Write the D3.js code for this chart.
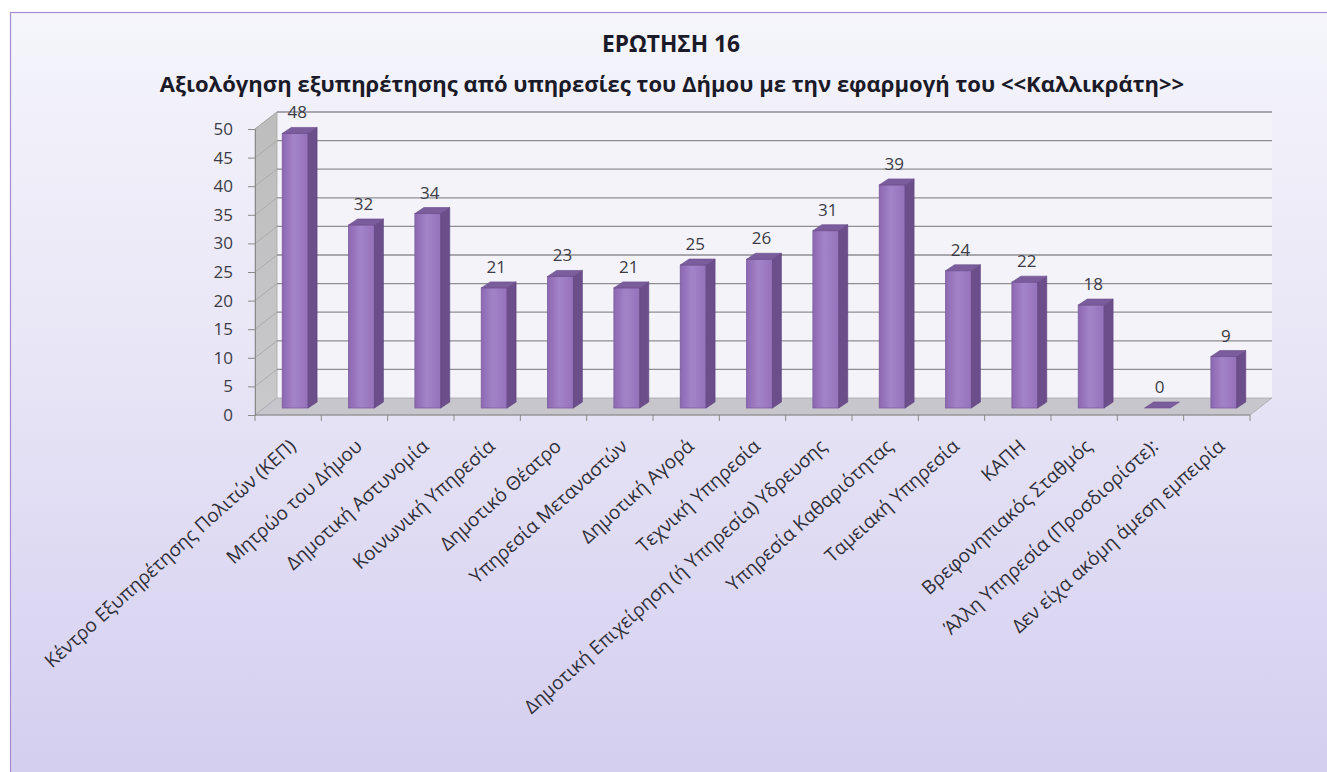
<!DOCTYPE html>
<html><head><meta charset="utf-8">
<script src="https://cdn.jsdelivr.net/npm/d3@7"></script>
<style>html,body{margin:0;padding:0;background:#fff;}svg{display:block;}</style>
</head><body>
<svg id="c" width="1327" height="772"></svg>
<script>
const categories = [
  "Κέντρο Εξυπηρέτησης Πολιτών (ΚΕΠ)",
  "Μητρώο του Δήμου",
  "Δημοτική Αστυνομία",
  "Κοινωνική Υπηρεσία",
  "Δημοτικό Θέατρο",
  "Υπηρεσία Μεταναστών",
  "Δημοτική Αγορά",
  "Τεχνική Υπηρεσία",
  "Δημοτική Επιχείρηση (ή Υπηρεσία) Υδρευσης",
  "Υπηρεσία Καθαριότητας",
  "Ταμειακή Υπηρεσία",
  "ΚΑΠΗ",
  "Βρεφονηπιακός Σταθμός",
  "Άλλη Υπηρεσία (Προσδιορίστε):",
  "Δεν είχα ακόμη άμεση εμπειρία"
];
const values = [48, 32, 34, 21, 23, 21, 25, 26, 31, 39, 24, 22, 18, 0, 9];
const yTicks = [0, 5, 10, 15, 20, 25, 30, 35, 40, 45, 50];
const titleLine1 = "ΕΡΩΤΗΣΗ 16";
const titleLine2 = "Αξιολόγηση εξυπηρέτησης από υπηρεσίες του Δήμου με την εφαρμογή του <<Καλλικράτη>>";

const svg = d3.select("#c");
const FONT = "'Open Sans', 'Noto Sans', sans-serif";

// 3D depth of the plot box
const DX = 22, DY = -17;

const x = d3.scaleBand().domain(categories).range([255, 1250]).padding(0);
const y = d3.scaleLinear().domain([0, 50]).range([415, 129]);

const defs = svg.append("defs");
const bg = defs.append("linearGradient").attr("id", "bg").attr("x1", 0).attr("y1", 0).attr("x2", 0).attr("y2", 1);
bg.append("stop").attr("offset", "0%").attr("stop-color", "#f5f5fb");
bg.append("stop").attr("offset", "45%").attr("stop-color", "#e8e5f6");
bg.append("stop").attr("offset", "100%").attr("stop-color", "#d3cdef");

const face = defs.append("linearGradient").attr("id", "face").attr("x1", 0).attr("y1", 0).attr("x2", 1).attr("y2", 0);
face.append("stop").attr("offset", "0%").attr("stop-color", "#8d68b2");
face.append("stop").attr("offset", "45%").attr("stop-color", "#a283c8");
face.append("stop").attr("offset", "100%").attr("stop-color", "#9572bb");

const lwall = defs.append("linearGradient").attr("id", "lwall").attr("x1", 0).attr("y1", 0).attr("x2", 0).attr("y2", 1);
lwall.append("stop").attr("offset", "0%").attr("stop-color", "#bdbdbd");
lwall.append("stop").attr("offset", "100%").attr("stop-color", "#c9c9cc");

// chart area background
svg.append("rect").attr("x", 10.5).attr("y", 12.5).attr("width", 1330).attr("height", 780)
  .attr("fill", "url(#bg)").attr("stroke", "#a58bcf").attr("stroke-width", 1.2);

// back wall
svg.append("rect").attr("x", 255 + DX).attr("y", y(50) + DY).attr("width", 1250 - 255)
  .attr("height", y(0) - y(50)).attr("fill", "#f3f3f9");

// left wall
svg.append("path").attr("d", `M255,${y(50)} L${255+DX},${y(50)+DY} L${255+DX},${y(0)+DY} L255,${y(0)} Z`)
  .attr("fill", "url(#lwall)").attr("stroke", "#a8a8a8").attr("stroke-width", 0.8);

// floor
svg.append("path").attr("d", `M255,${y(0)} L${255+DX},${y(0)+DY} L${1250+DX},${y(0)+DY} L1250,${y(0)} Z`)
  .attr("fill", "#c6c6cc").attr("stroke", "#a8a8ad").attr("stroke-width", 0.8);

// gridlines on back wall + left wall
const grid = svg.append("g");
yTicks.filter(v => v > 0).forEach(v => {
  grid.append("line").attr("x1", 255 + DX).attr("x2", 1250 + DX)
    .attr("y1", y(v) + DY).attr("y2", y(v) + DY)
    .attr("stroke", "#8e8e92").attr("stroke-width", 1.3);
  grid.append("line").attr("x1", 255).attr("x2", 255 + DX)
    .attr("y1", y(v)).attr("y2", y(v) + DY)
    .attr("stroke", "#a4a4a6").attr("stroke-width", 0.8);
});

// y axis
const yAxis = svg.append("g").attr("transform", "translate(255,0)")
  .call(d3.axisLeft(y).tickValues(yTicks).tickSize(7).tickPadding(15));
yAxis.select(".domain").attr("stroke", "#8a8a8a");
yAxis.selectAll(".tick line").attr("stroke", "#8a8a8a");
yAxis.selectAll(".tick text").attr("font-family", FONT).attr("font-size", 17)
  .attr("fill", "#3c3c46");

// x axis line + ticks at band boundaries
svg.append("line").attr("x1", 255).attr("x2", 1250).attr("y1", y(0)).attr("y2", y(0))
  .attr("stroke", "#8a8a8a").attr("stroke-width", 1);
const bounds = categories.map(c => x(c)).concat([x(categories[categories.length - 1]) + x.bandwidth()]);
svg.append("g").selectAll("line").data(bounds).join("line")
  .attr("x1", d => d).attr("x2", d => d).attr("y1", y(0)).attr("y2", y(0) + 6)
  .attr("stroke", "#8a8a8a").attr("stroke-width", 1);

// bars
const bw = x.bandwidth() * 0.39;
const bdx = 9, bdy = -6, off = 7, offY = -7;
const bars = svg.append("g");
categories.forEach((c, i) => {
  const v = values[i];
  const cx = x(c) + x.bandwidth() / 2 + off;
  const x0 = cx - bw / 2, x1 = cx + bw / 2;
  const yb = y(0) + offY, yt = y(v) + offY;
  const g = bars.append("g");
  if (v > 0) {
    g.append("rect").attr("x", x0).attr("y", yt).attr("width", bw).attr("height", yb - yt)
      .attr("fill", "url(#face)").attr("stroke", "#7a5a9e").attr("stroke-width", 0.8);
    g.append("path").attr("d", `M${x1},${yb} L${x1+bdx},${yb+bdy} L${x1+bdx},${yt+bdy} L${x1},${yt} Z`)
      .attr("fill", "#6c4e8a").attr("stroke", "#5e4280").attr("stroke-width", 0.6);
  }
  g.append("path").attr("d", `M${x0},${yt} L${x0+bdx},${yt+bdy} L${x1+bdx},${yt+bdy} L${x1},${yt} Z`)
    .attr("fill", "#7b5c9c").attr("stroke", "#6a4c8c").attr("stroke-width", 0.6);
  g.append("text").attr("x", cx + 2).attr("y", yt + bdy - 9)
    .attr("text-anchor", "middle").attr("font-family", FONT).attr("font-size", 17)
    .attr("fill", "#3c3c46").text(v);
});

// category labels (rotated)
const labG = svg.append("g");
const labs = labG.selectAll("text").data(categories).join("text")
  .attr("transform", c => `translate(${x(c) + x.bandwidth() / 2 + 9},${448}) rotate(-42)`)
  .attr("text-anchor", "end").attr("font-family", FONT).attr("font-size", 15)
  .attr("fill", "#30303a").text(c => c);
const l0 = labs.node().getComputedTextLength();
const labFs = 15 * 330 / l0;
labs.attr("font-size", labFs);

// titles
const t1 = svg.append("text").attr("x", 671).attr("y", 52).attr("text-anchor", "middle")
  .attr("font-family", FONT).attr("font-weight", "bold").attr("font-size", 20)
  .attr("fill", "#1a1a28").text(titleLine1);
const t2 = svg.append("text").attr("x", 672).attr("y", 92).attr("text-anchor", "middle")
  .attr("font-family", FONT).attr("font-weight", "bold").attr("font-size", 20)
  .attr("fill", "#1a1a28").text(titleLine2);
const w2 = t2.node().getComputedTextLength();
const tfs = 20 * 1025 / w2;
t2.attr("font-size", tfs);
t1.attr("font-size", tfs * 1.03);
</script>
</body></html>
